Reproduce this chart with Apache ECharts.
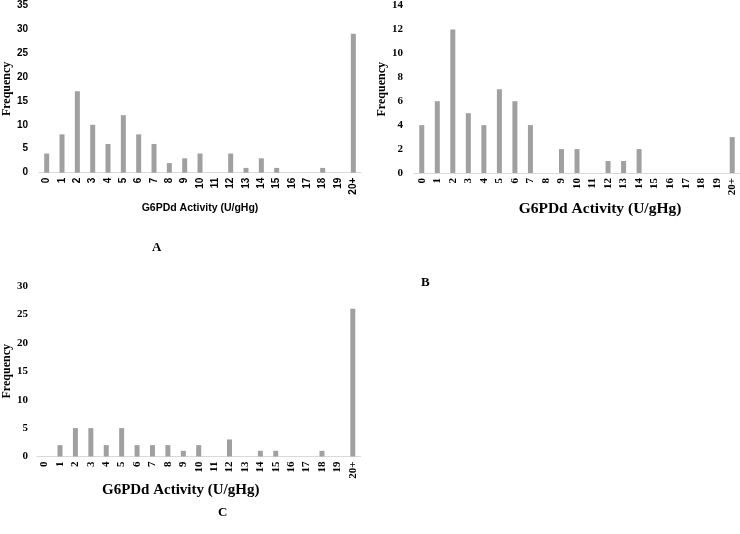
<!DOCTYPE html>
<html>
<head>
<meta charset="utf-8">
<script src="https://cdn.jsdelivr.net/npm/echarts@6/dist/echarts.min.js"></script>
<style>
  html, body { margin: 0; padding: 0; background: #fff; }
  #chart { width: 740px; height: 534px; }
</style>
</head>
<body>
<div id="chart"></div>
<script>
// categories shared by all three panels
const categories = ['0', '1', '2', '3', '4', '5', '6', '7', '8', '9', '10',
  '11', '12', '13', '14', '15', '16', '17', '18', '19', '20+'];

// frequencies
const valuesA = [4, 8, 17, 10, 6, 12, 8, 6, 2, 3, 4, 0, 4, 1, 3, 1, 0, 0, 1, 0, 29];
const valuesB = [4, 6, 12, 5, 4, 7, 6, 4, 0, 2, 2, 0, 1, 1, 2, 0, 0, 0, 0, 0, 3];
const valuesC = [0, 2, 5, 5, 2, 5, 2, 2, 2, 1, 2, 0, 3, 0, 1, 1, 0, 0, 1, 0, 26];

// y axis ranges [max, interval]
const yRangeA = [35, 5];
const yRangeB = [14, 2];
const yRangeC = [30, 5];

const xName = 'G6PDd Activity (U/gHg)';
const yName = 'Frequency';

const sans = 'Liberation Sans';
const serif = 'Liberation Serif';
const barColor = '#a0a0a0';
const axisColor = '#d9d9d9';

function xAxisFor(gridIndex, font, size, nameSize, nameGap, namePad) {
  return {
    type: 'category',
    gridIndex: gridIndex,
    data: categories,
    boundaryGap: true,
    axisLine: { show: true, lineStyle: { color: axisColor, width: 1 } },
    axisTick: { show: false },
    axisLabel: {
      interval: 0,
      rotate: 90,
      margin: 5,
      color: '#000',
      fontFamily: font,
      fontWeight: 'bold',
      fontSize: size
    },
    splitLine: { show: false },
    name: xName,
    nameLocation: 'middle',
    nameGap: nameGap,
    nameTextStyle: {
      color: '#000',
      fontFamily: font,
      fontWeight: 'bold',
      fontSize: nameSize,
      padding: namePad
    }
  };
}

function yAxisFor(gridIndex, range, font, size, margin, nameGap) {
  return {
    type: 'value',
    gridIndex: gridIndex,
    min: 0,
    max: range[0],
    interval: range[1],
    axisLine: { show: false },
    axisTick: { show: false },
    splitLine: { show: false },
    axisLabel: {
      margin: margin,
      color: '#000',
      fontFamily: font,
      fontWeight: 'bold',
      fontSize: size
    },
    name: yName,
    nameLocation: 'middle',
    nameRotate: 90,
    nameGap: nameGap,
    nameTextStyle: {
      color: '#000',
      fontFamily: serif,
      fontWeight: 'bold',
      fontSize: 12
    }
  };
}

function barSeries(index, values) {
  return {
    type: 'bar',
    xAxisIndex: index,
    yAxisIndex: index,
    data: values,
    barWidth: 5,
    itemStyle: { color: barColor },
    silent: true
  };
}

const chart = echarts.init(document.getElementById('chart'), null, { renderer: 'canvas' });

const option = {
  animation: false,
  backgroundColor: '#fff',
  grid: [
    { left: 35, top: 5, width: 326, height: 167.7 },
    { left: 414, top: 5, width: 326, height: 168 },
    { left: 33.5, top: 286, width: 327, height: 170.5 }
  ],
  xAxis: [
    xAxisFor(0, sans, 10, 10.5, 30, 0),
    xAxisFor(1, serif, 11, 15.5, 28, [0, 0, 0, 46]),
    xAxisFor(2, serif, 11, 15, 26, [0, 36, 0, 0])
  ],
  yAxis: [
    yAxisFor(0, yRangeA, sans, 10, 11, 24),
    yAxisFor(1, yRangeB, serif, 11, 11, 21),
    yAxisFor(2, yRangeC, serif, 11, 9, 22)
  ],
  series: [
    barSeries(0, valuesA),
    barSeries(1, valuesB),
    barSeries(2, valuesC)
  ],
  graphic: [
    { type: 'text', left: 152, top: 241, style: { text: 'A', font: 'bold 13px "Liberation Serif"', fill: '#000' } },
    { type: 'text', left: 421, top: 276, style: { text: 'B', font: 'bold 13px "Liberation Serif"', fill: '#000' } },
    { type: 'text', left: 218, top: 506, style: { text: 'C', font: 'bold 13px "Liberation Serif"', fill: '#000' } }
  ]
};

chart.setOption(option);
</script>
</body>
</html>
